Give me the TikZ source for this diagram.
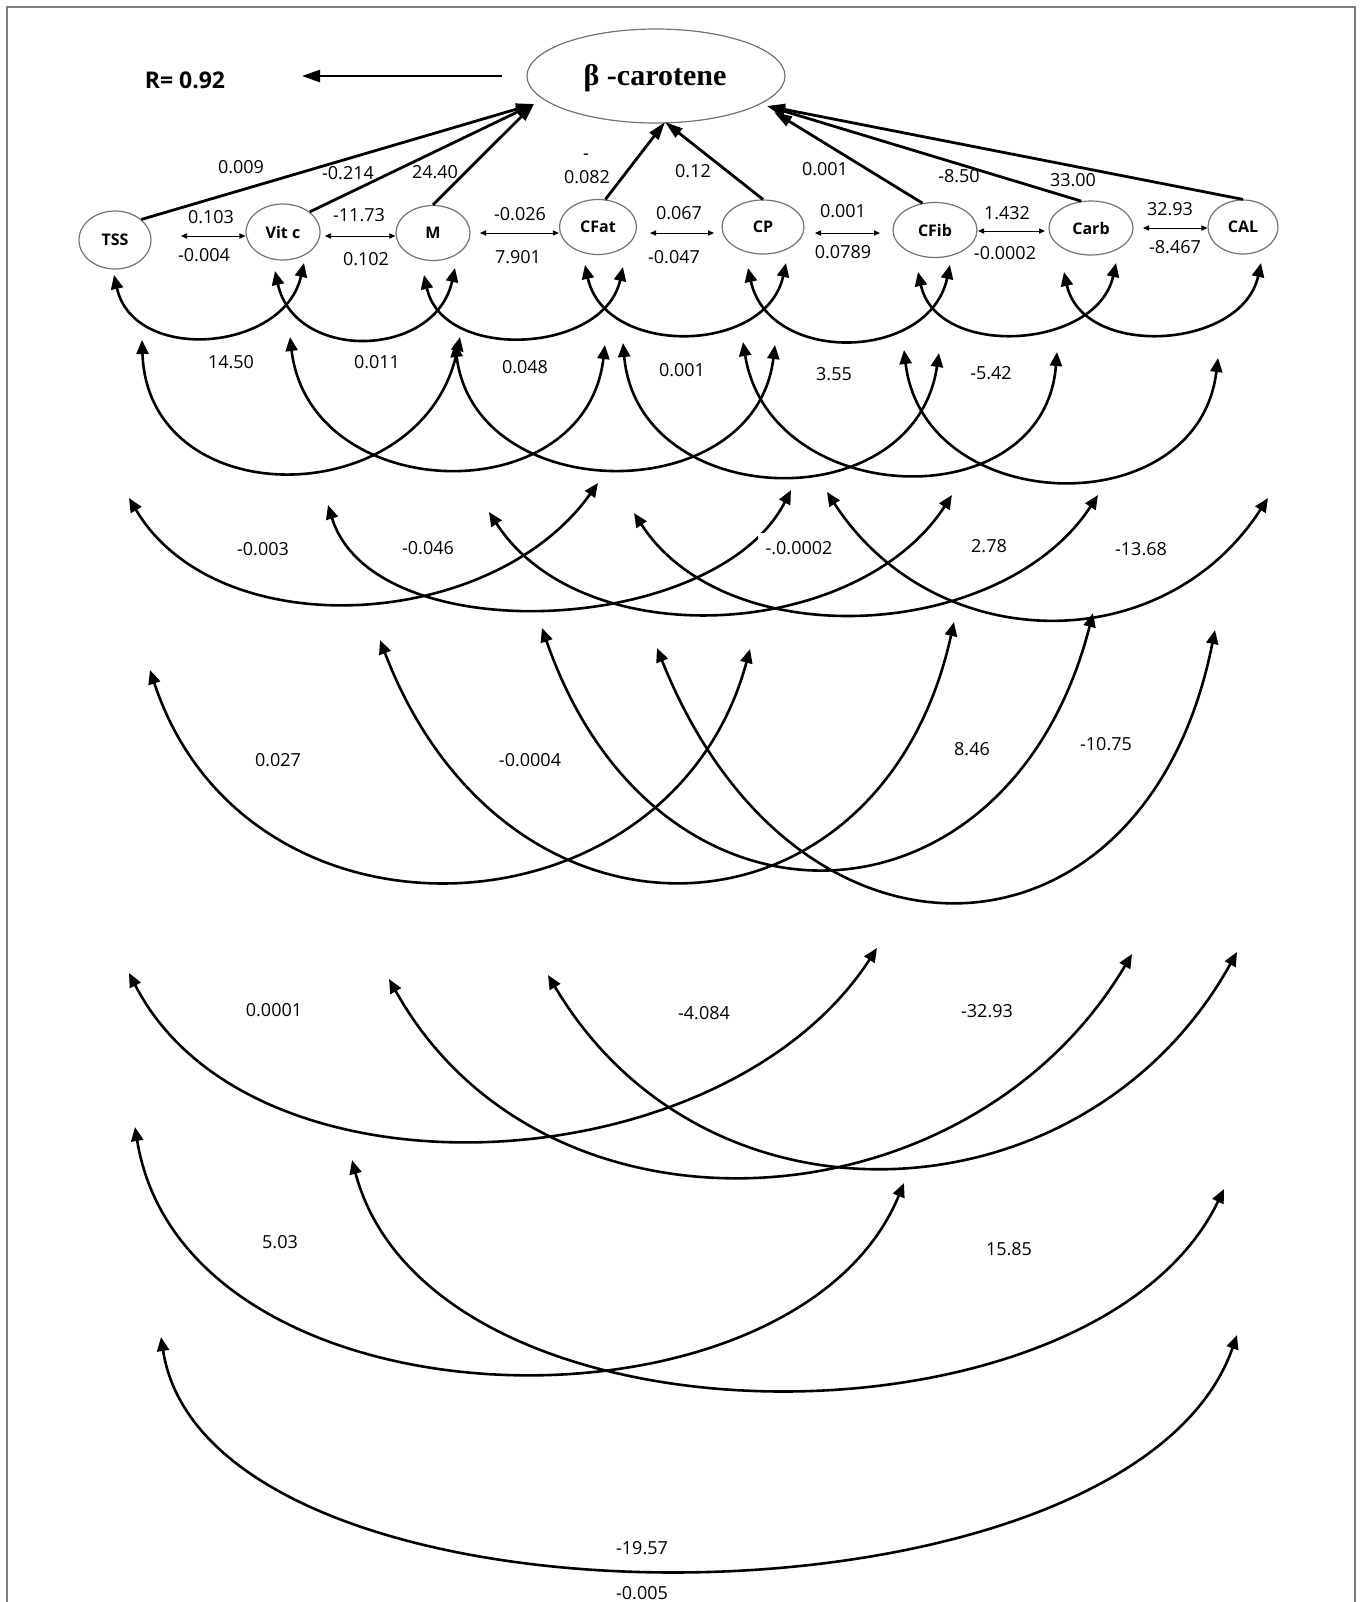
\documentclass[tikz,border=0pt]{standalone}
\usepackage{fontspec}
\setmainfont{Open Sans}
\newfontfamily\betafont{Liberation Serif}
\usetikzlibrary{arrows.meta,calc,shapes.geometric}
\newcommand\myarc[5]{%
  \coordinate (#1s) at (#2);
  \coordinate (#1e) at (#3);
  \draw[corr] (#1s) .. controls ($(#1s)+(#4)$) and ($(#1e)+(#5)$) .. (#1e);}
\begin{document}
\begin{tikzpicture}[x=0.5pt,y=-0.5pt,
  num/.style={font=\fontsize{9}{10}\selectfont, inner sep=0pt},
  var/.style={ellipse, draw=black!55, line width=0.6pt, inner sep=0pt, font=\bfseries\fontsize{8}{9}\selectfont},
  corr/.style={line width=1.3pt, {Triangle[length=7pt,width=6pt]}-{Triangle[length=7pt,width=6pt]}},
  reg/.style={line width=1.4pt, -{Triangle[length=9pt,width=5.5pt]}},
  small/.style={line width=0.5pt, {Triangle[length=3pt,width=2.6pt]}-{Triangle[length=3pt,width=2.6pt]}},
]
\useasboundingbox (0,0) rectangle (1363,1602);
\draw[line width=1pt, black!50] (7,1602) -- (7,7) -- (1355,7) -- (1355,1602);

% dependent variable
\node[ellipse, draw=black!55, line width=0.6pt, minimum width=129pt, minimum height=47pt, inner sep=0pt] (bc) at (656,76) {};
\node[font=\betafont\bfseries\fontsize{15}{17}\selectfont, inner sep=0pt] (bct) at (655,78) {β -carotene};
\node[font=\bfseries\fontsize{11.5}{13}\selectfont, inner sep=0pt] (R) at (185,80) {R= 0.92};
\coordinate (rs) at (502,76);
\coordinate (re) at (302,76);
\draw[line width=1.3pt, -{Triangle[length=9pt,width=6pt]}] (rs) -- (re);

% independent variables
\node[var, minimum width=36pt, minimum height=29pt] (TSS) at (115,240) {TSS};
\node[var, minimum width=37pt, minimum height=28pt] (VitC) at (283,232) {Vit c};
\node[var, minimum width=37pt, minimum height=27.5pt] (M) at (433,233) {M};
\node[var, minimum width=38.5pt, minimum height=27.5pt] (CFat) at (598,227) {CFat};
\node[var, minimum width=41pt, minimum height=27pt] (CP) at (763,227) {CP};
\node[var, minimum width=42pt, minimum height=27.5pt] (CFib) at (935,230) {CFib};
\node[var, minimum width=42pt, minimum height=27pt] (Carb) at (1091,228) {Carb};
\node[var, minimum width=35pt, minimum height=27pt] (CAL) at (1243,227) {CAL};

% paths to beta-carotene
\coordinate (bcL) at (534,104);
\coordinate (bcB) at (665,122);
\coordinate (bcR) at (767,106);
\coordinate (bcR2) at (774,112);
\draw[reg] (TSS.38) -- (bcL);
\draw[reg] (VitC.37) -- (bcL);
\draw[reg] (M.north) -- (bcL);
\draw[reg] (CFat.75) -- (bcB);
\draw[reg] (CP.north) -- (bcB);
\draw[reg] (CFib.115) -- (bcR2);
\draw[reg] (Carb.110) -- (bcR);
\draw[reg] (CAL.north) -- (bcR);

\node[num] at (241,167) {0.009};
\node[num] at (348,173) {-0.214};
\node[num] at (435,172) {24.40};
\node[num] at (586,157) {-};
\node[num] at (587,177) {0.082};
\node[num] at (693,171) {0.12};
\node[num] at (825,169) {0.001};
\node[num] at (959,176) {-8.50};
\node[num] at (1073,180) {33.00};

% small double arrows between neighbours
\coordinate (h1a) at (181,236); \coordinate (h1b) at (VitC.west |- h1a);
\coordinate (h2a) at (325,236); \coordinate (h2b) at (M.west |- h2a);
\coordinate (h3a) at (480,233); \coordinate (h3b) at (CFat.west |- h3a);
\coordinate (h4a) at (650,233); \coordinate (h4b) at (714,233);
\coordinate (h5a) at (815,233); \coordinate (h5b) at (880,233);
\coordinate (h6a) at (978,231); \coordinate (h6b) at (1045,231);
\coordinate (h7a) at (1143,228); \coordinate (h7b) at (CAL.west |- h7a);
\draw[small] (h1a) -- (h1b);
\draw[small] (h2a) -- (h2b);
\draw[small] (h3a) -- (h3b);
\draw[small] (h4a) -- (h4b);
\draw[small] (h5a) -- (h5b);
\draw[small] (h6a) -- (h6b);
\draw[small] (h7a) -- (h7b);

\node[num] at (211,217) {0.103};
\node[num] at (204,255) {-0.004};
\node[num] at (359,215) {-11.73};
\node[num] at (366,259) {0.102};
\node[num] at (520,214) {-0.026};
\node[num] at (518,257) {7.901};
\node[num] at (679,213) {0.067};
\node[num] at (674,257) {-0.047};
\node[num] at (843,211) {0.001};
\node[num] at (843,252) {0.0789};
\node[num] at (1007,213) {1.432};
\node[num] at (1005,253) {-0.0002};
\node[num] at (1170,209) {32.93};
\node[num] at (1175,247) {-8.467};

% row 1
\myarc{a1}{114,275}{304,263}{20,89}{-20,89}
\myarc{a2}{275,271}{455,268}{20,91}{-20,91}
\myarc{a3}{424,275}{623,267}{19,87}{-19,87}
\myarc{a4}{585,265}{786,263}{20,92}{-20,92}
\myarc{a5}{748,268}{950,265}{21,97}{-21,97}
\myarc{a6}{918,272}{1116,263}{19,87}{-19,87}
\myarc{a7}{1064,272}{1261,263}{19,87}{-19,87}

% row 2
\myarc{b1}{142,340}{460,337}{6,177}{-36,177}
\myarc{b2}{290,337}{605,345}{20,169}{-20,169}
\myarc{b3}{455,343}{775,345}{20,165}{-20,165}
\myarc{b4}{623,343}{939,353}{15,169}{-25,169}
\myarc{b5}{743,342}{1057,352}{27,168}{-13,168}
\myarc{b6}{904,350}{1218,358}{20,168}{-20,168}
\node[num] at (231,362) {14.50};
\node[num] at (377,362) {0.011};
\node[num] at (525,367) {0.048};
\node[num] at (682,370) {0.001};
\node[num] at (834,374) {3.55};
\node[num] at (991,373) {-5.42};

% row 3
\myarc{c1}{129,498}{598,483}{88,149}{-106,149}
\myarc{c2}{328,505}{791,490}{45,147}{-75,147}
\myarc{c3}{489,512}{952,495}{94,145}{-94,145}
\myarc{c4}{634,513}{1098,495}{94,145}{-94,145}
\myarc{c5}{827,492}{1268,498}{106,164}{-106,164}
\node[num] at (263,549) {-0.003};
\node[num] at (428,548) {-0.046};
\node[num, fill=white, inner sep=4pt] at (799,548) {-.0.0002};
\node[num] at (989,546) {2.78};
\node[num] at (1141,549) {-13.68};

% row 4
\myarc{d1}{150,670}{750,649}{97,294}{-79,294}
\myarc{d2}{380,640}{954,622}{127,332}{-73,332}
\myarc{d3}{542,628}{1093,613}{114,329}{-84,329}
\myarc{d4}{657,648}{1215,630}{139,348}{-69,348}
\node[num] at (278,760) {0.027};
\node[num] at (530,760) {-0.0004};
\node[num] at (972,749) {8.46};
\node[num] at (1106,744) {-10.75};

% row 5
\myarc{e1}{129,973}{877,948}{122,238}{-154,238}
\myarc{e2}{389,979}{1132,954}{155,278}{-165,278}
\myarc{e3}{548,975}{1237,952}{160,270}{-150,270}
\node[num] at (274,1010) {0.0001};
\node[num] at (704,1013) {-4.084};
\node[num] at (987,1011) {-32.93};

% row 6
\myarc{f1}{135,1127}{904,1183}{50,310}{-110,267}
\myarc{f2}{352,1160}{1224,1189}{80,300}{-130,270}
\node[num] at (280,1242) {5.03};
\node[num] at (1009,1249) {15.85};

% row 7
\myarc{g1}{161,1337}{1237,1335}{48,311}{-108,311}
\node[num] at (642,1548) {-19.57};
\node[num] at (642,1593) {-0.005};
\end{tikzpicture}
\end{document}
